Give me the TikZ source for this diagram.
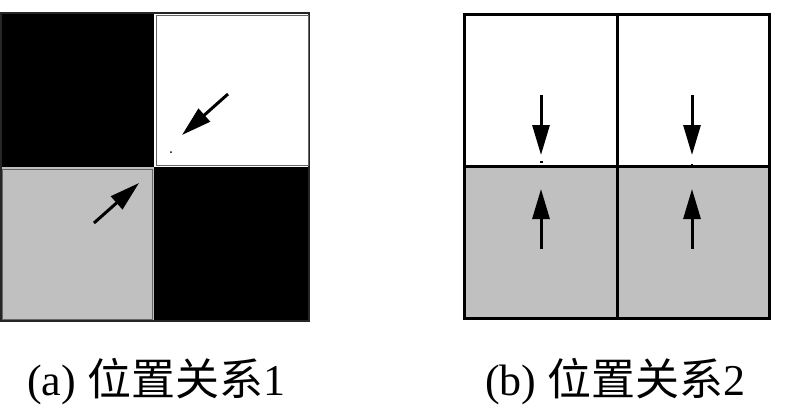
\documentclass[tikz,border=0pt]{standalone}
\usepackage{fontspec}
\setmainfont{Liberation Serif}
\newfontfamily\cjk{Noto Sans CJK SC}
\usetikzlibrary{arrows.meta}
\definecolor{cellgray}{HTML}{C0C0C0}
\tikzset{
  arr/.style={line width=3pt,-{Triangle[length=30pt,width=17pt]}},
  gridline/.style={line width=3pt,black},
  captxt/.style={anchor=base west,inner sep=0pt,font=\fontsize{44}{48}\selectfont}
}
\begin{document}
\begin{tikzpicture}[x=1pt,y=-1pt]
\useasboundingbox (0,0) rectangle (800,410);
% ---- (a) ----
\fill[black] (0,13) rectangle (154,167);
\fill[white] (154,13) rectangle (310,167);
\fill[cellgray] (0,167) rectangle (154,321);
\fill[black] (154,167) rectangle (310,321);
\draw[black!85,line width=2pt] (1,13) rectangle (309,321);
\draw[black!60,line width=1pt] (156,15) rectangle (308,165);
\draw[black!60,line width=1pt] (2,169) rectangle (152,319);
\coordinate (a1s) at (228,94);
\coordinate (a1e) at (182,135);
\coordinate (a2s) at (94,223);
\coordinate (a2e) at (139,183);
\draw[arr] (a1s) -- (a1e);
\draw[arr] (a2s) -- (a2e);
\fill (171,152) circle (1pt);
% ---- (b) ----
\fill[white] (464,14) rectangle (769,166);
\fill[cellgray] (464,166) rectangle (769,318);
\draw[gridline] (464,14) rectangle (769,318);
\draw[gridline] (617,14) -- (617,318);
\draw[gridline] (464,166) -- (769,166);
\coordinate (b1s) at (541,95);
\coordinate (b1e) at (541,155);
\coordinate (b2s) at (692,95);
\coordinate (b2e) at (692,155);
\coordinate (b3s) at (541,249);
\coordinate (b3e) at (541,189);
\coordinate (b4s) at (692,249);
\coordinate (b4e) at (692,189);
\draw[arr] (b1s) -- (b1e);
\draw[arr] (b2s) -- (b2e);
\draw[arr] (b3s) -- (b3e);
\draw[arr] (b4s) -- (b4e);
\fill (539.5,161) rectangle (542.5,163);
\fill (691,164) rectangle (693,166);
% ---- captions ----
\node[captxt] (capa) at (27,395) {(a) {\cjk 位置关系}1};
\node[captxt] (capb) at (485,395) {(b) {\cjk 位置关系}2};
\end{tikzpicture}
\end{document}
